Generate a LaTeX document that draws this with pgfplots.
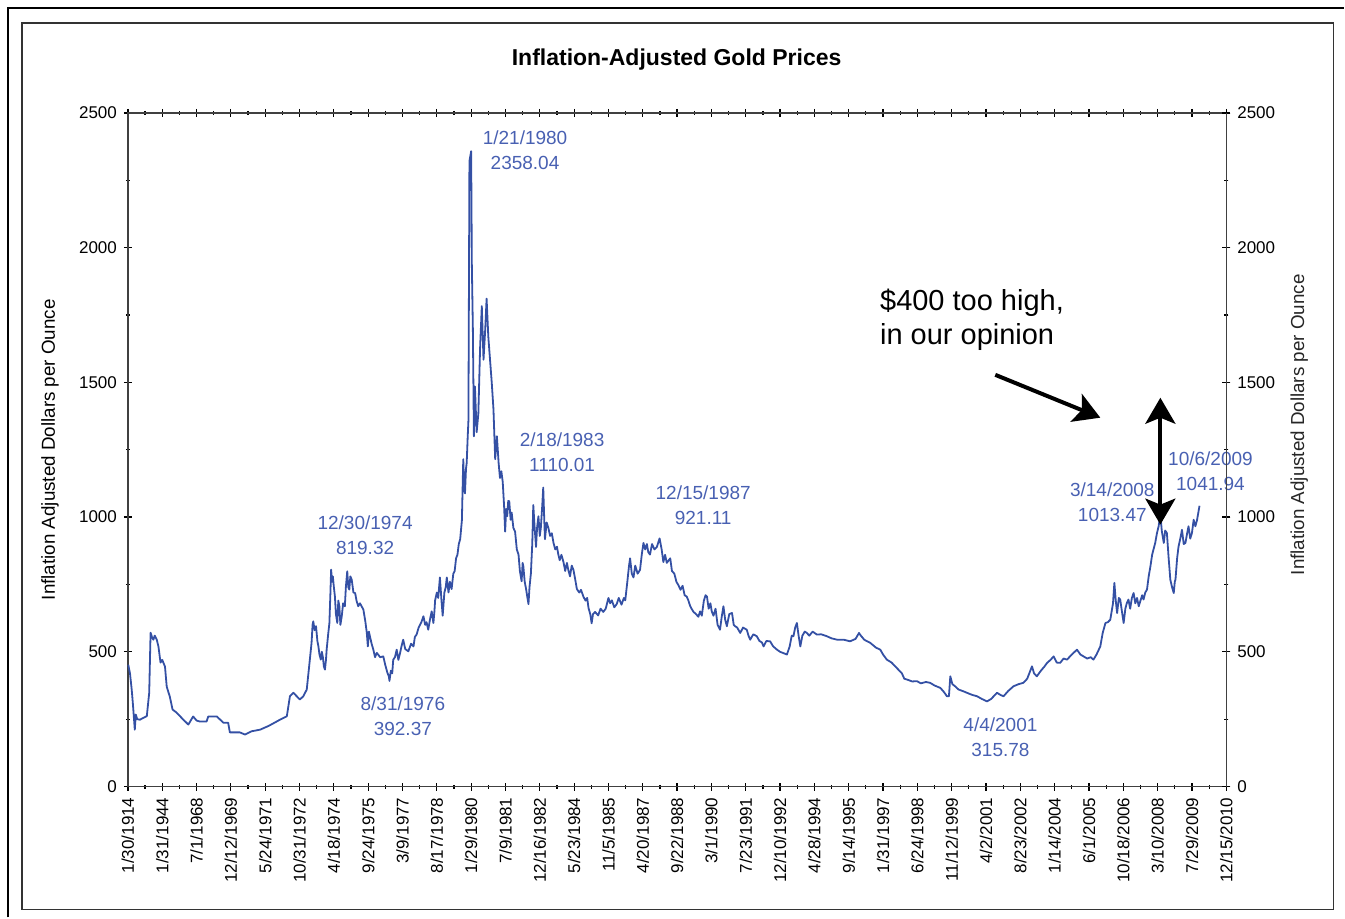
\documentclass[border=0pt]{standalone}
\usepackage{pgfplots}
\pgfplotsset{compat=1.18}
\usepackage{fontspec}
\setmainfont{Liberation Sans}
\usetikzlibrary{arrows.meta}
\definecolor{goldblue}{RGB}{52,80,164}
\definecolor{lblblue}{RGB}{72,96,178}

\begin{document}
\begin{tikzpicture}[x=0.5pt,y=-0.5pt]
\path (0,0) rectangle (1345,918);
\draw[line width=0.8pt] (8,918) -- (8,8) -- (1345,8);
\draw[line width=0.6pt, black!80] (22,23) rectangle (1334,910);
\node[font=\bfseries\fontsize{11.5}{13}\selectfont] at (677,60) {Inflation-Adjusted Gold Prices};
\node[rotate=90, font=\fontsize{9.4}{11}\selectfont] at (50,450) {Inflation Adjusted Dollars per Ounce};
\node[rotate=90, font=\fontsize{9.4}{11}\selectfont, black!85] at (1300,425) {Inflation Adjusted Dollars per Ounce};

\begin{axis}[
  at={(64pt,-393.5pt)}, anchor=south west,
  scale only axis, width=549.5pt, height=337pt,
  xmin=0, xmax=32, ymin=0, ymax=2500,
  xtick={0,...,32},
  xticklabels={1/30/1914,1/31/1944,7/1/1968,12/12/1969,5/24/1971,10/31/1972,4/18/1974,9/24/1975,3/9/1977,8/17/1978,1/29/1980,7/9/1981,12/16/1982,5/23/1984,11/5/1985,4/20/1987,9/22/1988,3/1/1990,7/23/1991,12/10/1992,4/28/1994,9/14/1995,1/31/1997,6/24/1998,11/12/1999,4/2/2001,8/23/2002,1/14/2004,6/1/2005,10/18/2006,3/10/2008,7/29/2009,12/15/2010},
  minor x tick num=1,
  ytick={0,500,...,2500}, minor y tick num=1,
  tick align=center, major tick length=4pt, minor tick length=2pt,
  xticklabel style={rotate=90, anchor=east, font=\fontsize{8.5}{10}\selectfont},
  yticklabel style={font=\fontsize{8.5}{10}\selectfont},
  /pgf/number format/assume math mode=true,
  /pgf/number format/1000 sep={},
  axis line style={black!75, line width=0.6pt},
  tick style={black, line width=0.6pt},
  clip=false,
]
\addplot[goldblue, line width=0.9pt, line join=round] table {
x y
0.01 452
0.06 420
0.11 360
0.13 330
0.15 298
0.20 211
0.23 267
0.27 250
0.35 248
0.45 255
0.55 261
0.62 348
0.66 571
0.70 555
0.74 545
0.78 560
0.84 545
0.89 519
0.95 460
1.00 470
1.08 445
1.13 371
1.18 350
1.22 334
1.30 286
1.42 274
1.60 250
1.76 230
1.90 260
2.00 245
2.10 241
2.29 241
2.34 260
2.59 260
2.78 237
2.92 237
2.97 201
3.26 201
3.41 193
3.60 205
3.85 211
4.10 225
4.43 248
4.63 261
4.72 335
4.82 348
5.01 323
5.11 335
5.21 360
5.28 446
5.35 533
5.38 600
5.40 613
5.44 580
5.48 595
5.52 540
5.55 520
5.58 490
5.62 471
5.65 500
5.68 480
5.71 445
5.74 434
5.77 470
5.79 508
5.83 560
5.87 607
5.90 720
5.92 805
5.95 760
5.97 780
6.00 740
6.03 706
6.06 640
6.10 607
6.13 690
6.16 669
6.19 600
6.23 632
6.27 680
6.32 669
6.35 740
6.39 799
6.42 740
6.45 731
6.48 780
6.52 768
6.57 720
6.62 718
6.66 690
6.71 669
6.76 680
6.86 657
6.92 610
6.96 570
6.99 520
7.02 575
7.05 558
7.10 530
7.15 508
7.20 480
7.25 496
7.35 480
7.44 483
7.50 450
7.56 422
7.60 410
7.62 392
7.66 430
7.70 420
7.73 471
7.78 480
7.83 508
7.88 470
7.93 496
7.97 520
8.02 545
8.08 510
8.17 502
8.25 530
8.32 520
8.36 555
8.41 564
8.47 590
8.55 610
8.61 632
8.66 600
8.70 610
8.75 582
8.80 620
8.85 650
8.90 607
8.93 650
8.95 691
9.00 720
9.04 700
9.09 776
9.13 700
9.17 634
9.22 720
9.26 740
9.29 776
9.34 720
9.38 760
9.43 733
9.48 790
9.52 800
9.56 847
9.60 860
9.64 900
9.68 918
9.73 988
9.77 1215
9.80 1100
9.82 1088
9.85 1180
9.87 1201
9.90 1300
9.92 1357
9.95 2321
10.00 2358
10.02 1938
10.05 1697
10.08 1300
10.11 1485
10.16 1315
10.21 1385
10.26 1627
10.31 1783
10.36 1584
10.41 1697
10.45 1811
10.50 1669
10.55 1584
10.60 1499
10.65 1400
10.70 1215
10.75 1300
10.80 1201
10.84 1145
10.88 1170
10.92 1130
10.96 1040
10.99 946
11.02 1030
11.05 1003
11.08 1060
11.11 1059
11.15 990
11.18 1017
11.23 960
11.28 946
11.33 880
11.38 861
11.42 800
11.47 762
11.50 830
11.52 818
11.56 760
11.60 733
11.64 700
11.67 677
11.70 740
11.74 790
11.78 900
11.81 1045
11.85 960
11.89 889
11.92 960
11.96 1003
12.00 930
12.03 960
12.07 1040
12.10 1110
12.13 990
12.15 918
12.20 980
12.25 960
12.30 930
12.35 940
12.40 904
12.45 880
12.50 890
12.54 861
12.58 840
12.63 860
12.69 833
12.74 800
12.79 830
12.83 804
12.88 780
12.93 820
12.98 804
13.03 770
13.08 733
13.15 720
13.20 730
13.27 705
13.33 690
13.38 700
13.42 662
13.47 640
13.51 606
13.55 640
13.61 648
13.70 635
13.77 660
13.85 648
13.92 660
14.00 700
14.05 680
14.10 691
14.17 665
14.24 677
14.30 700
14.38 675
14.45 700
14.49 691
14.55 760
14.60 820
14.63 847
14.68 790
14.73 776
14.78 820
14.85 790
14.92 804
14.97 860
15.02 904
15.07 880
15.12 900
15.16 870
15.21 861
15.27 900
15.34 880
15.41 889
15.49 921
15.55 880
15.60 833
15.65 860
15.70 830
15.80 847
15.85 800
15.92 790
15.98 760
16.04 747
16.10 730
16.16 745
16.22 710
16.28 705
16.33 690
16.38 670
16.42 660
16.48 648
16.55 640
16.62 630
16.67 650
16.72 634
16.78 690
16.83 710
16.87 705
16.92 660
16.97 680
17.01 650
17.06 634
17.12 660
17.18 600
17.25 582
17.30 630
17.35 669
17.40 620
17.45 595
17.52 640
17.60 644
17.65 600
17.69 595
17.75 590
17.84 570
17.92 590
18.03 582
18.08 560
18.13 545
18.22 565
18.32 558
18.40 540
18.47 535
18.52 520
18.60 540
18.71 539
18.80 520
18.91 508
19.00 500
19.10 495
19.20 490
19.28 520
19.34 560
19.39 558
19.44 590
19.49 607
19.54 560
19.59 520
19.65 560
19.72 575
19.78 570
19.85 560
19.95 575
20.07 564
20.20 565
20.36 558
20.50 550
20.66 545
20.85 545
21.04 539
21.20 548
21.30 570
21.33 564
21.45 545
21.63 533
21.80 515
21.92 508
22.00 490
22.11 471
22.25 460
22.40 440
22.55 420
22.62 400
22.70 397
22.85 390
22.99 391
23.10 383
23.25 388
23.37 385
23.50 375
23.67 366
23.78 350
23.86 335
23.92 335
23.96 409
24.02 380
24.10 372
24.20 360
24.35 353
24.50 345
24.60 340
24.74 335
24.88 325
25.03 316
25.15 325
25.32 348
25.42 340
25.51 335
25.65 355
25.80 372
25.95 380
26.09 385
26.20 400
26.34 446
26.40 420
26.48 409
26.60 430
26.70 445
26.78 459
26.88 470
26.97 483
27.06 460
27.16 459
27.26 475
27.36 471
27.50 490
27.65 508
27.75 490
27.84 483
27.95 475
28.05 480
28.13 471
28.22 490
28.33 520
28.40 570
28.48 607
28.55 610
28.62 619
28.70 680
28.74 756
28.78 690
28.82 644
28.87 700
28.91 694
28.96 650
29.01 607
29.06 660
29.10 680
29.15 694
29.20 660
29.25 700
29.30 718
29.35 680
29.40 700
29.45 669
29.50 690
29.55 710
29.59 694
29.64 720
29.69 731
29.74 780
29.79 817
29.84 860
29.88 880
29.93 904
29.98 940
30.03 966
30.08 1013
30.12 950
30.18 904
30.22 950
30.27 941
30.32 850
30.37 768
30.42 740
30.47 718
30.50 760
30.52 768
30.57 850
30.61 891
30.66 920
30.71 953
30.76 900
30.81 904
30.86 940
30.90 966
30.95 920
31.00 941
31.05 990
31.10 966
31.15 990
31.22 1042
};
\begin{scope}[font=\fontsize{9.5}{12.5}\selectfont, text=lblblue, align=center]
\node at (axis cs:11.57,2361) {1/21/1980\\2358.04};
\node at (axis cs:6.91,933) {12/30/1974\\819.32};
\node at (axis cs:8.01,261) {8/31/1976\\392.37};
\node at (axis cs:12.65,1241) {2/18/1983\\1110.01};
\node at (axis cs:16.76,1044) {12/15/1987\\921.11};
\node at (axis cs:25.42,184) {4/4/2001\\315.78};
\node at (axis cs:28.68,1055) {3/14/2008\\1013.47};
\node at (axis cs:31.54,1170) {10/6/2009\\1041.94};
\end{scope}
\node[anchor=west, align=left, font=\fontsize{14.5}{17}\selectfont] at (axis cs:21.71,1732) {\$400 too high,\\in our opinion};
\draw[line width=2pt, -{Stealth[length=13pt,width=15pt,inset=3pt]}] (axis cs:25.27,1528) -- (axis cs:28.33,1369);
\draw[line width=2pt, {Stealth[length=13pt,width=15pt,inset=3pt]}-{Stealth[length=13pt,width=15pt,inset=3pt]}] (axis cs:30.08,1443) -- (axis cs:30.08,972);
\end{axis}

\begin{axis}[
  at={(64pt,-393.5pt)}, anchor=south west,
  scale only axis, width=549.5pt, height=337pt,
  xmin=0, xmax=32, ymin=0, ymax=2500,
  hide x axis, axis y line*=right,
  ytick={0,500,...,2500}, minor y tick num=1,
  tick align=center, major tick length=4pt, minor tick length=2pt,
  yticklabel style={font=\fontsize{8.5}{10}\selectfont},
  /pgf/number format/assume math mode=true,
  /pgf/number format/1000 sep={},
  axis line style={black!75, line width=0.6pt},
  tick style={black, line width=0.6pt},
]
\addplot[draw=none] coordinates {(0,0)};
\end{axis}
\end{tikzpicture}
\end{document}
